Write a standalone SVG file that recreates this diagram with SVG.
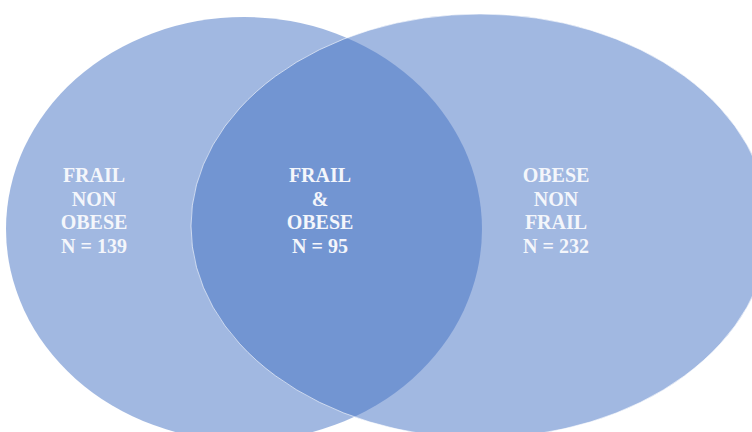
<svg xmlns="http://www.w3.org/2000/svg" width="752" height="432" viewBox="0 0 752 432">
<style>
.set{fill:#4472C4;fill-opacity:0.5}
.lbl{font-family:"Liberation Serif","Times New Roman",serif;font-weight:bold;font-size:20px;fill:#f4f6fb;text-anchor:middle}
</style>
<rect width="752" height="432" fill="#ffffff"/>
<g id="frail">
<ellipse class="set" cx="244" cy="229" rx="238" ry="212"/>
</g>
<g id="obese">
<ellipse class="set" cx="480" cy="226" rx="289" ry="212" stroke="#ffffff" stroke-opacity="0.6" stroke-width="1"/>
</g>
<g id="connectors"></g>
<g id="label-frail-non-obese">
<text class="lbl" x="94" y="182">FRAIL</text>
<text class="lbl" x="94" y="205.5">NON</text>
<text class="lbl" x="94" y="229">OBESE</text>
<text class="lbl" x="94" y="252.5">N = 139</text>
</g>
<g id="label-frail-obese">
<text class="lbl" x="320" y="182">FRAIL</text>
<text class="lbl" x="320" y="205.5">&amp;</text>
<text class="lbl" x="320" y="229">OBESE</text>
<text class="lbl" x="320" y="252.5">N = 95</text>
</g>
<g id="label-obese-non-frail">
<text class="lbl" x="556" y="182">OBESE</text>
<text class="lbl" x="556" y="205.5">NON</text>
<text class="lbl" x="556" y="229">FRAIL</text>
<text class="lbl" x="556" y="252.5">N = 232</text>
</g>
</svg>
